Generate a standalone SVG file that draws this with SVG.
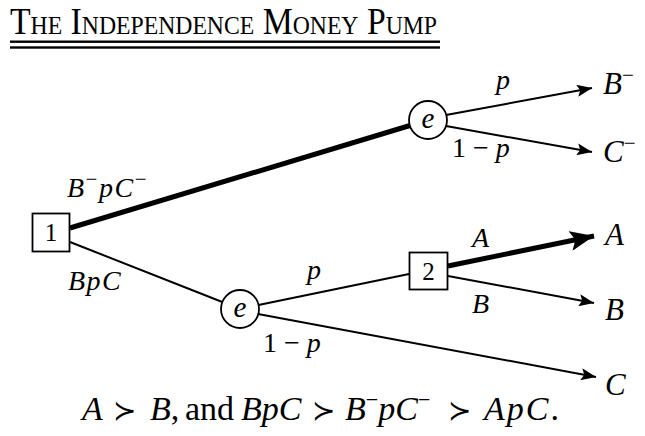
<svg xmlns="http://www.w3.org/2000/svg" width="645" height="436" viewBox="0 0 645 436">
<style>
.t{font-family:"Liberation Serif","DejaVu Serif",serif;fill:#000}
.m{font-family:"Liberation Serif","DejaVu Serif",serif;font-style:italic;fill:#000}
.up{font-style:normal}
.e{font-size:28px}
.end{font-size:31px}
.thin{stroke:#000;stroke-width:2;fill:none}
.thick{stroke:#000;stroke-width:5;fill:none}
.node{fill:#fff;stroke:#000;stroke-width:1.8}
</style>
<defs>
<marker id="ah" markerUnits="userSpaceOnUse" markerWidth="16" markerHeight="12" refX="15" refY="6" orient="auto">
<path d="M0,0 L15,6 L0,12 L3,6 Z" fill="#000"/>
</marker>
<marker id="ahb" markerUnits="userSpaceOnUse" markerWidth="26" markerHeight="20" refX="24" refY="10" orient="auto">
<path d="M0,0 L24,10 L0,20 L5,10 Z" fill="#000"/>
</marker>
</defs>
<rect width="645" height="436" fill="#fff"/>
<g id="title">
<text class="t" x="10" y="34" font-size="37" style="font-variant:small-caps" textLength="427" lengthAdjust="spacingAndGlyphs">The Independence Money Pump</text>
<rect x="10" y="40.5" width="430" height="2.4" fill="#000"/>
<rect x="10" y="46.3" width="430" height="2.4" fill="#000"/>
</g>
<g id="connectors">
<line class="thick" x1="70" y1="228" x2="410" y2="125.5"/>
<line class="thin" x1="446" y1="115" x2="592" y2="88" marker-end="url(#ah)"/>
<line class="thin" x1="446" y1="126" x2="592" y2="152" marker-end="url(#ah)"/>
<line class="thin" x1="70" y1="242" x2="222.3" y2="302"/>
<line class="thin" x1="258.5" y1="305" x2="409" y2="274"/>
<line class="thick" x1="448" y1="266" x2="594" y2="236" marker-end="url(#ahb)"/>
<line class="thin" x1="448" y1="276" x2="594" y2="303" marker-end="url(#ah)"/>
<line class="thin" x1="258" y1="314" x2="596" y2="377" marker-end="url(#ah)"/>
</g>
<g id="labels">
<text class="m e" x="67" y="197" letter-spacing="1.5">B<tspan class="up" font-size="21" dy="-11">−</tspan><tspan dy="11">p</tspan>C<tspan class="up" font-size="21" dy="-11">−</tspan></text>
<text class="m e" x="68" y="290" letter-spacing="1.5">BpC</text>
<text class="m e" x="496" y="89">p</text>
<text class="t e" x="452" y="157">1 − <tspan font-style="italic">p</tspan></text>
<text class="m e" x="307" y="279">p</text>
<text class="t e" x="263" y="352">1 − <tspan font-style="italic">p</tspan></text>
<text class="m e" x="472" y="247">A</text>
<text class="m e" x="472" y="313">B</text>
</g>
<g id="n1">
<rect class="node" x="32.5" y="213.5" width="37" height="38"/>
<text class="t" x="51" y="241" font-size="25" text-anchor="middle">1</text>
</g>
<g id="e1">
<circle class="node" cx="428" cy="120" r="19"/>
<text class="m" x="428" y="128" font-size="29" text-anchor="middle">e</text>
</g>
<g id="e2">
<circle class="node" cx="240" cy="309" r="19"/>
<text class="m" x="240" y="317" font-size="29" text-anchor="middle">e</text>
</g>
<g id="n2">
<rect class="node" x="409.5" y="252.5" width="38" height="37"/>
<text class="t" x="428.5" y="280" font-size="25" text-anchor="middle">2</text>
</g>
<g id="endB-">
<text class="m end" x="603" y="94">B<tspan class="up" font-size="21" dy="-12">−</tspan></text>
</g>
<g id="endC-">
<text class="m end" x="603" y="162">C<tspan class="up" font-size="21" dy="-12">−</tspan></text>
</g>
<g id="endA">
<text class="m end" x="605" y="245">A</text>
</g>
<g id="endB">
<text class="m end" x="605" y="320">B</text>
</g>
<g id="endC">
<text class="m end" x="605" y="395">C</text>
</g>
<g id="caption">
<text class="m" y="420" font-size="34"><tspan x="82">A</tspan><tspan class="up" x="113" font-size="28">≻</tspan><tspan x="150">B</tspan><tspan class="up">,</tspan><tspan class="up" x="185">and</tspan><tspan x="241">BpC</tspan><tspan class="up" x="312" font-size="28">≻</tspan><tspan x="345">B</tspan><tspan class="up" font-size="22" dy="-13">−</tspan><tspan dy="13">p</tspan>C<tspan class="up" font-size="22" dy="-13">−</tspan><tspan class="up" x="448" dy="13" font-size="28">≻</tspan><tspan x="484" letter-spacing="2">ApC</tspan><tspan class="up">.</tspan></text>
</g>
</svg>
